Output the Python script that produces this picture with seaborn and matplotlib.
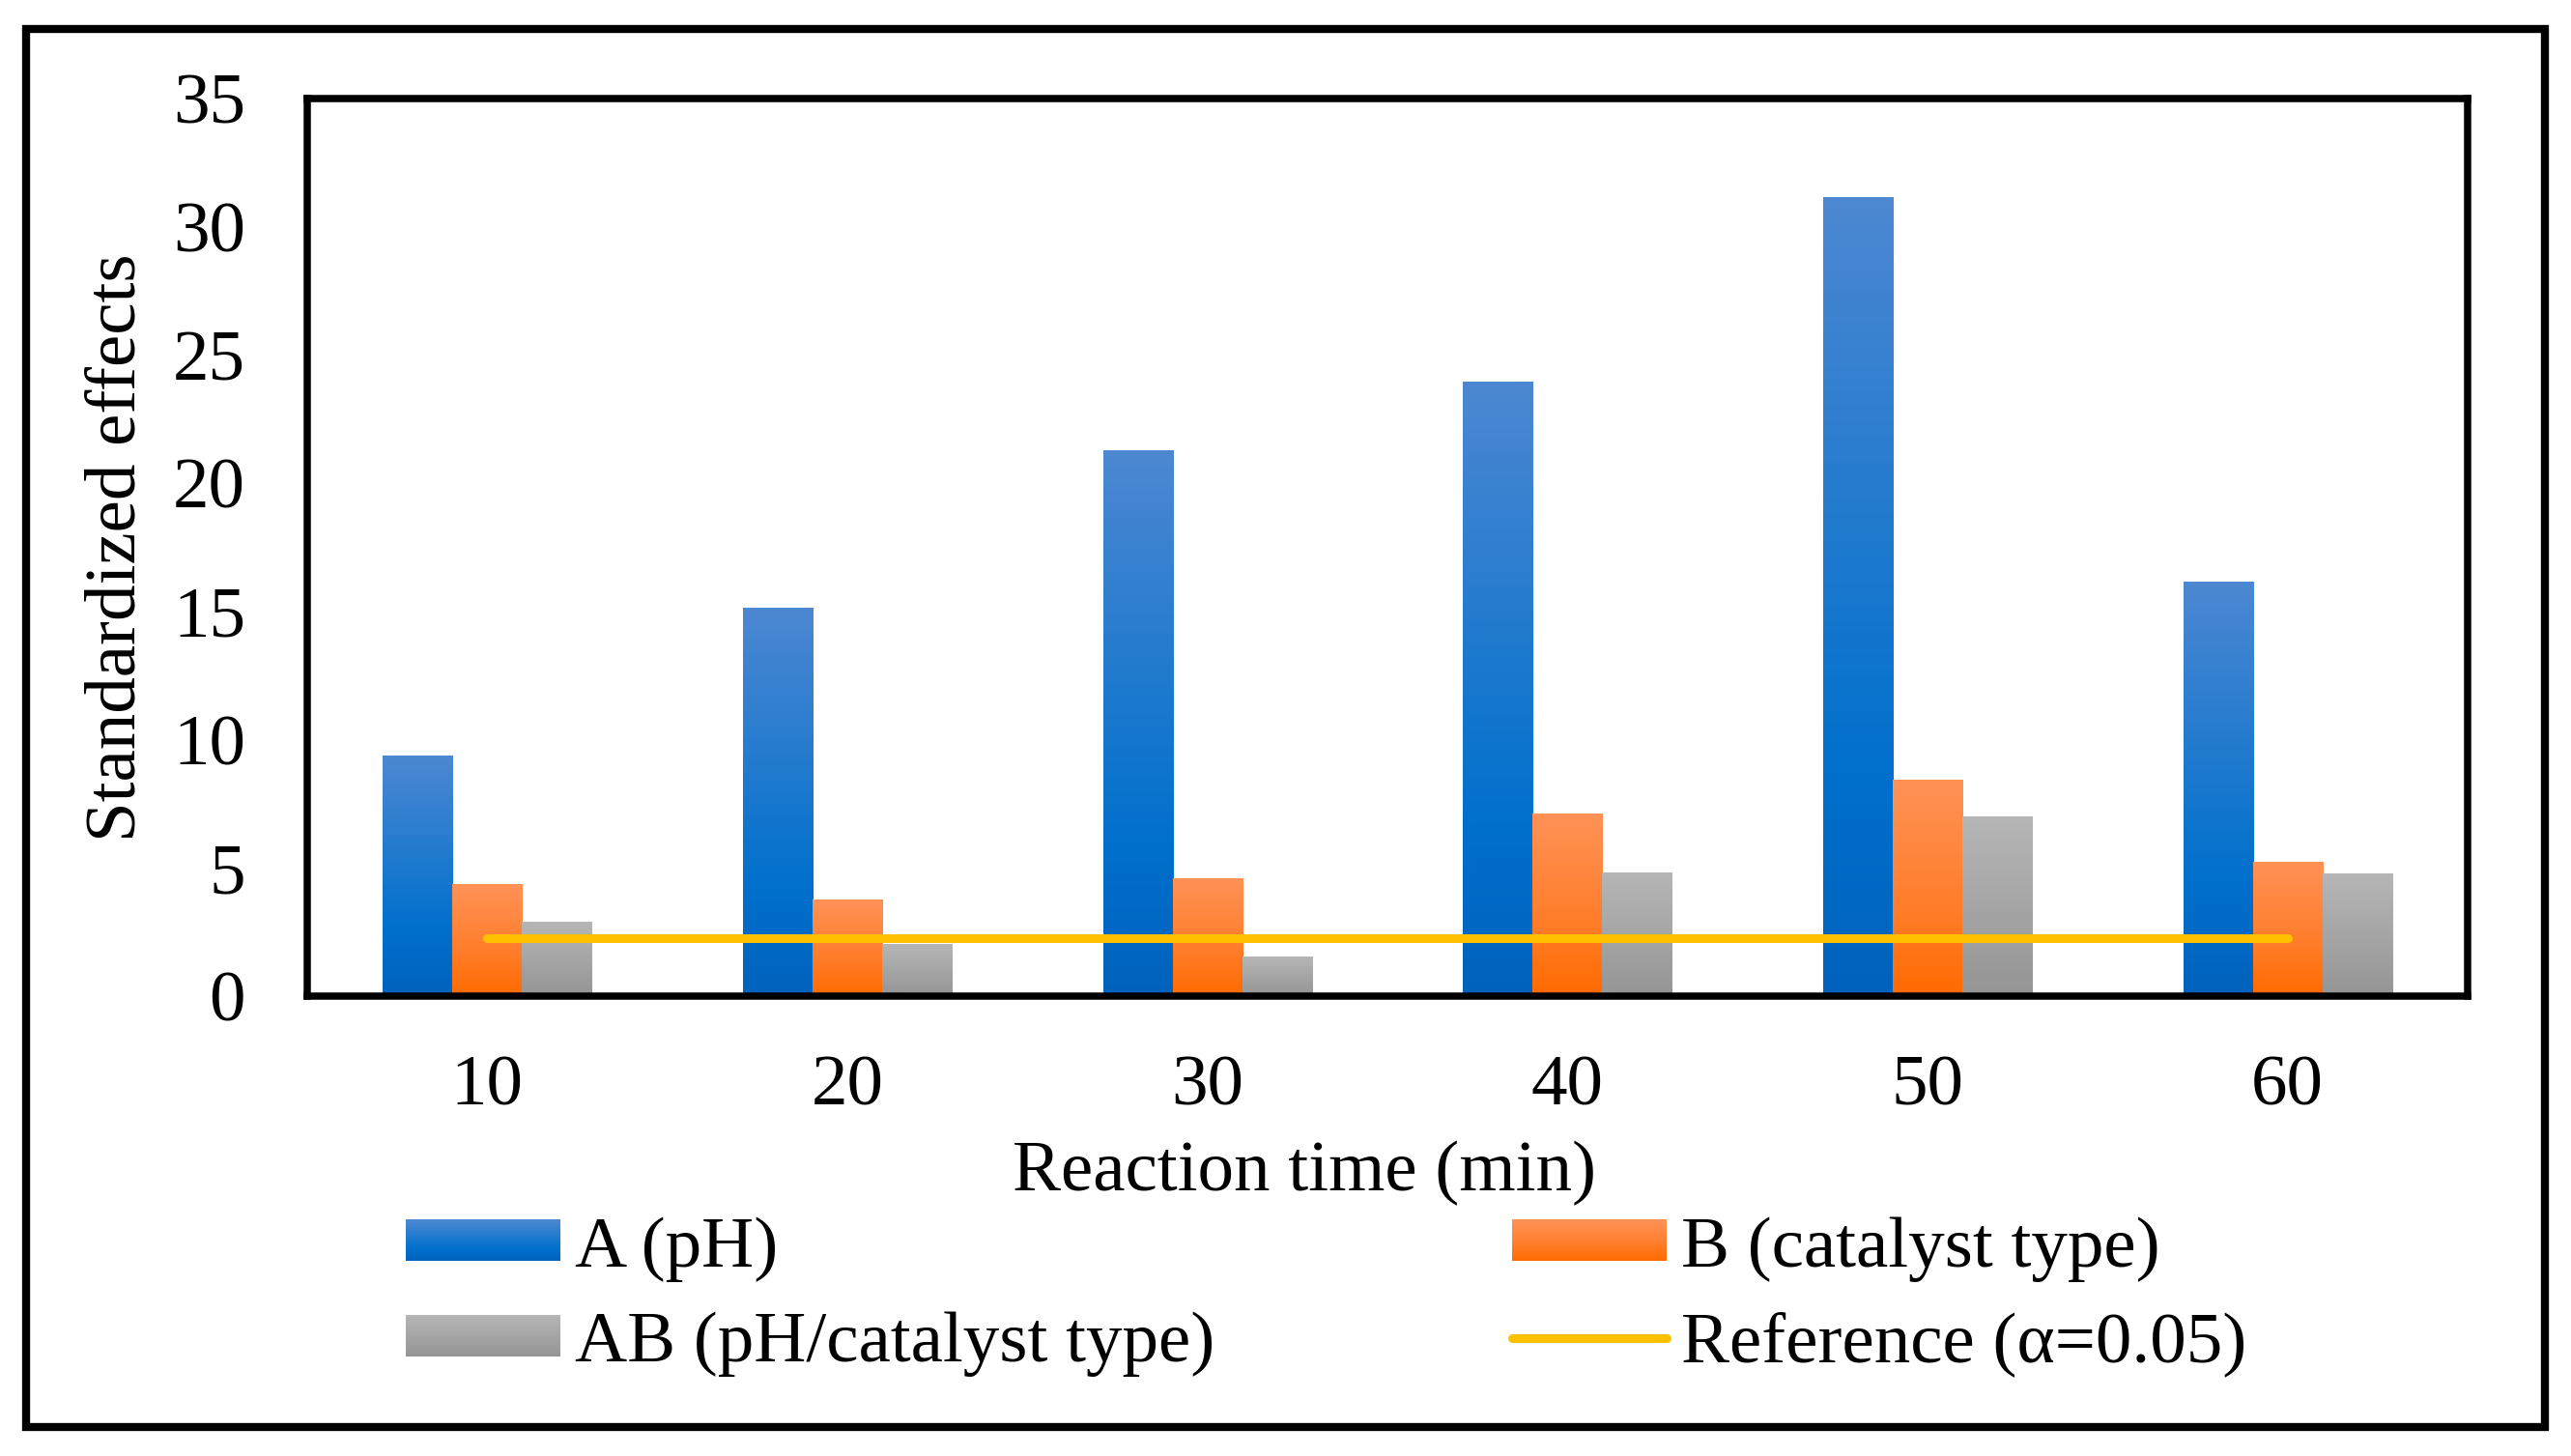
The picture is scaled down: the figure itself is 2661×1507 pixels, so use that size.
import numpy as np
import pandas as pd
import matplotlib
matplotlib.use("Agg")
import matplotlib.pyplot as plt
import seaborn as sns
from matplotlib.patches import Rectangle
from matplotlib.lines import Line2D
from matplotlib.colors import LinearSegmentedColormap
from matplotlib.legend_handler import HandlerBase
from matplotlib.image import BboxImage
from matplotlib.transforms import Bbox, TransformedBbox

# ---------------- data ----------------
times = ["10", "20", "30", "40", "50", "60"]
effect_a = [9.36, 15.14, 21.26, 23.95, 31.12, 16.14]
effect_b = [4.35, 3.73, 4.56, 7.09, 8.41, 5.21]
effect_ab = [2.90, 2.01, 1.51, 4.79, 6.99, 4.76]
reference = [2.26, 2.26, 2.26, 2.26, 2.26, 2.26]
series_labels = ["A (pH)", "B (catalyst type)", "AB (pH/catalyst type)"]
ref_label = "Reference (\u03b1=0.05)"
y_ticks = [0, 5, 10, 15, 20, 25, 30, 35]
x_title = "Reaction time (min)"
y_title = "Standardized effects"

# ---------------- style ----------------
sns.set_style("white")
plt.rcParams["font.family"] = ["Liberation Serif", "DejaVu Serif"]
plt.rcParams["text.color"] = "black"
plt.rcParams["axes.labelcolor"] = "black"
plt.rcParams["xtick.color"] = "black"
plt.rcParams["ytick.color"] = "black"
FS = 54

W, H = 2661, 1507
fig = plt.figure(figsize=(W / 100, H / 100), dpi=100)
ax = fig.add_axes([318 / W, 1 - 1031 / H, (2554 - 318) / W, (1031 - 102) / H])

df = pd.DataFrame({
    "time": times * 3,
    "effect": effect_a + effect_b + effect_ab,
    "factor": [series_labels[0]] * 6 + [series_labels[1]] * 6 + [series_labels[2]] * 6,
})

cmaps = [
    LinearSegmentedColormap.from_list("blue", [(0, "#4D88D2"), (0.72, "#0070CC"), (1, "#0062BD")]),
    LinearSegmentedColormap.from_list("orange", [(0, "#FF9257"), (0.6, "#FF7D2A"), (1, "#FF6A00")]),
    LinearSegmentedColormap.from_list("gray", [(0, "#B6B6B6"), (1, "#959595")]),
]
mid_colors = ["#1F78CE", "#FF7D2A", "#A8A8A8"]

sns.barplot(data=df, x="time", y="effect", hue="factor", order=times,
            hue_order=series_labels, palette=mid_colors, width=0.58,
            dodge=True, saturation=1, legend=False, ax=ax, errorbar=None)

grad = np.linspace(0, 1, 256).reshape(-1, 1)
for container, cmap in zip(ax.containers, cmaps):
    for bar in container:
        x0, y0 = bar.get_x(), bar.get_y()
        w, h = bar.get_width(), bar.get_height()
        ax.imshow(grad, cmap=cmap, extent=(x0, x0 + w, y0, y0 + h), origin="upper",
                  aspect="auto", zorder=2, interpolation="bilinear")
        bar.set_facecolor("none")
        bar.set_edgecolor("none")

sns.lineplot(x=list(range(len(times))), y=reference, color="#FFC000", linewidth=6.5,
             ax=ax, zorder=5, solid_capstyle="round")

ax.set_xlim(-0.5, 5.5)
ax.set_ylim(0, 35)
ax.set_yticks(y_ticks)
ax.set_yticklabels([str(t) for t in y_ticks])
ax.set_xticks(range(len(times)))
ax.set_xticklabels(times)
ax.tick_params(axis="y", length=0, pad=46, labelsize=FS, labelcolor="black")
ax.tick_params(axis="x", length=0, pad=44, labelsize=FS, labelcolor="black")
for s in ax.spines.values():
    s.set_visible(True)
    s.set_linewidth(5.4)
    s.set_color("black")

ax.set_xlabel(x_title, fontsize=FS, color="black")
ax.set_ylabel(y_title, fontsize=FS, color="black")
ax.xaxis.set_label_coords((1349.5 - 318) / 2236, -(1181 - 1031) / 929)
ax.yaxis.set_label_coords(-(318 - 156) / 2236, 0.5)


class GradHandler(HandlerBase):
    def __init__(self, cmap):
        super().__init__()
        self.cmap = cmap

    def create_artists(self, legend, orig_handle, xdescent, ydescent, width, height,
                       fontsize, trans):
        bb = Bbox.from_bounds(-xdescent, -ydescent, width, height)
        img = BboxImage(TransformedBbox(bb, trans), cmap=self.cmap,
                        interpolation="bilinear", origin="upper")
        img.set_data(np.linspace(0, 1, 64).reshape(-1, 1))
        return [img]


h_a = Rectangle((0, 0), 1, 1)
h_b = Rectangle((0, 0), 1, 1)
h_ab = Rectangle((0, 0), 1, 1)
h_ref = Line2D([0], [1], color="#FFC000", linewidth=6.5, solid_capstyle="round")
leg = fig.legend([h_a, h_ab, h_b, h_ref],
                 [series_labels[0], series_labels[2], series_labels[1], ref_label],
                 handler_map={h_a: GradHandler(cmaps[0]), h_b: GradHandler(cmaps[1]),
                              h_ab: GradHandler(cmaps[2])},
                 ncol=2, loc="upper left", bbox_to_anchor=(420 / W, 1 - 1259 / H),
                 bbox_transform=fig.transFigure, frameon=False, fontsize=FS,
                 handlelength=2.13, handleheight=0.5, handletextpad=0.2,
                 columnspacing=4.11, labelspacing=0.41, borderpad=0, borderaxespad=0)
for t in leg.get_texts():
    t.set_color("black")

fig.patches.append(Rectangle((27 / W, 1 - 1477 / H), (2634 - 27) / W, (1477 - 30) / H,
                             transform=fig.transFigure, fill=False, linewidth=6,
                             edgecolor="black", zorder=10))

fig.savefig("out.png", dpi=100, facecolor="white")
